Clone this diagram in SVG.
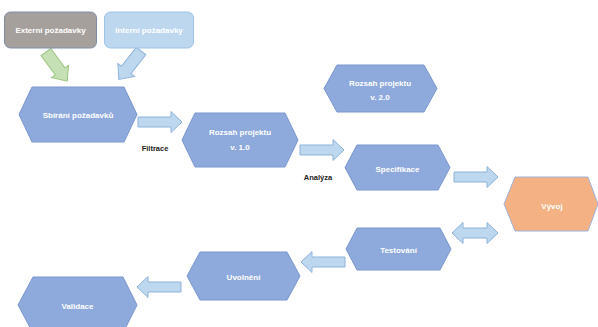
<svg xmlns="http://www.w3.org/2000/svg" xmlns:xlink="http://www.w3.org/1999/xlink" width="598" height="327" viewBox="0 0 598 327">
<style>
.hex{fill:#8EA9DB;stroke:#7A97CE;stroke-width:1}
.hexo{fill:#F4B183;stroke:#9FB4DA;stroke-width:1}
.t{font-family:"Liberation Sans",Arial,sans-serif;font-size:8px;font-weight:bold;fill:#FFFFFF;text-anchor:middle}
.lbl{font-family:"Liberation Sans",Arial,sans-serif;font-size:7.5px;font-weight:bold;fill:#222222;text-anchor:middle}
.arr{fill:#BDD7EE;stroke:#8FB3DC;stroke-width:1}
.garr{fill:#C5E0B4;stroke:#9CC57E;stroke-width:1}
</style>
<defs>
<path id="ra" d="M0,-5 H33 V-10.5 L44,0 L33,10.5 V5 H0 Z"/>
<path id="da" d="M0,0 L11,-10.5 V-5 H35 V-10.5 L46,0 L35,10.5 V5 H11 V10.5 Z"/>
<path id="dg" d="M0,-6 H24 V-10.5 L36,0 L24,10.5 V6 H0 Z"/>
</defs>
<rect width="598" height="327" fill="#FFFFFF"/>
<g id="connectors">
<use xlink:href="#dg" class="garr" transform="translate(46,52) rotate(54)"/>
<use xlink:href="#dg" class="arr" transform="translate(141,51) rotate(128)"/>
<use xlink:href="#ra" class="arr" transform="translate(138,122)"/>
<use xlink:href="#ra" class="arr" transform="translate(300,150)"/>
<use xlink:href="#ra" class="arr" transform="translate(454,177)"/>
<use xlink:href="#da" class="arr" transform="translate(452,233)"/>
<use xlink:href="#ra" class="arr" transform="translate(345,262) scale(-1,1)"/>
<use xlink:href="#ra" class="arr" transform="translate(181,287) scale(-1,1)"/>
<text class="lbl" x="155" y="151">Filtrace</text>
<text class="lbl" x="318" y="180">Analýza</text>
</g>
<g id="externi">
<rect x="4.5" y="12" width="92" height="36" rx="6" fill="#A6A09D" stroke="#7F8EA8" stroke-width="1"/>
<text class="t" x="50.5" y="33">Externí požadavky</text>
</g>
<g id="interni">
<rect x="104.5" y="12" width="89" height="36" rx="6" fill="#BDD7EE" stroke="#9DC3E6" stroke-width="1"/>
<text class="t" x="149" y="33">Interní požadavky</text>
</g>
<g id="sbirani">
<polygon class="hex" points="19,114.5 32,87 124,87 137,114.5 124,142 32,142"/>
<text class="t" x="78" y="118">Sbírání požadavků</text>
</g>
<g id="rozsah1">
<polygon class="hex" points="182,140 195,113 285,113 298,140 285,167 195,167"/>
<text class="t" x="240" y="135">Rozsah projektu</text>
<text class="t" x="240" y="150">v. 1.0</text>
</g>
<g id="rozsah2">
<polygon class="hex" points="324,88.5 337,65 424,65 437,88.5 424,112 337,112"/>
<text class="t" x="380" y="86">Rozsah projektu</text>
<text class="t" x="380" y="100">v. 2.0</text>
</g>
<g id="specifikace">
<polygon class="hex" points="345,167.5 357,145 438,145 450,167.5 438,190 357,190"/>
<text class="t" x="397.5" y="172">Specifikace</text>
</g>
<g id="vyvoj">
<polygon class="hexo" points="504,204 515,177 588,177 598,204 588,231 515,231"/>
<text class="t" x="552" y="209">Vývoj</text>
</g>
<g id="testovani">
<polygon class="hex" points="346,249 357,228 440,228 451,249 440,270 357,270"/>
<text class="t" x="398.5" y="253">Testování</text>
</g>
<g id="uvolneni">
<polygon class="hex" points="187,276 200,252 287,252 300,276 287,300 200,300"/>
<text class="t" x="243.5" y="280">Uvolnění</text>
</g>
<g id="validace">
<polygon class="hex" points="18,305 33,277 123,277 137,305 123,333 33,333"/>
<text class="t" x="77.5" y="309">Validace</text>
</g>
</svg>
